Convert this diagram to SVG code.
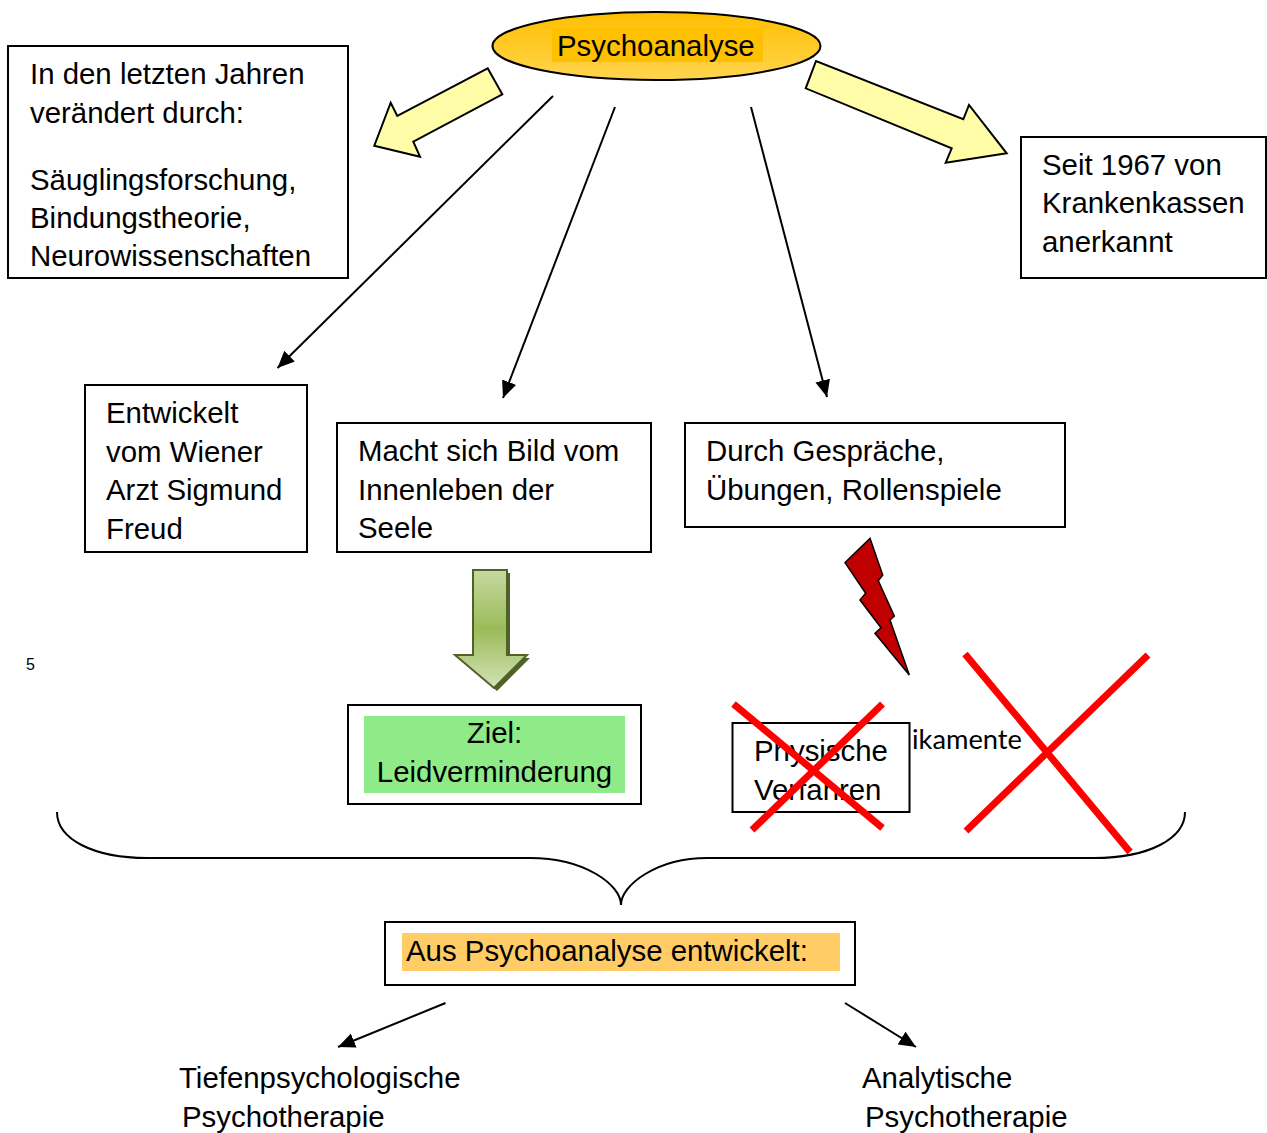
<svg xmlns="http://www.w3.org/2000/svg" width="1267" height="1133" viewBox="0 0 1267 1133">
<style>
text{font-family:"Liberation Sans",Arial,sans-serif;font-size:29.4px;fill:#000}
.box{fill:#fff;stroke:#000;stroke-width:2}
.conn{stroke:#000;stroke-width:2;fill:none}
.yarrow{fill:#FFFDA8;stroke:#000;stroke-width:2;stroke-linejoin:miter}
.cross{stroke:#FF0000;stroke-width:7;fill:none}
</style>
<defs>
<marker id="ah" markerUnits="userSpaceOnUse" markerWidth="18" markerHeight="16" refX="17" refY="7.5" orient="auto">
<path d="M0,0 L17,7.5 L0,15 z" fill="#000"/>
</marker>
<linearGradient id="gold" x1="0" y1="0" x2="0" y2="1">
<stop offset="0" stop-color="#FFBF00"/>
<stop offset="1" stop-color="#FFD450"/>
</linearGradient>
<linearGradient id="green" x1="0" y1="0" x2="0" y2="1">
<stop offset="0" stop-color="#C6D9A0"/>
<stop offset="0.5" stop-color="#9BBB59"/>
<stop offset="1" stop-color="#D3E2B6"/>
</linearGradient>
</defs>

<g id="psychoanalyse">
<ellipse cx="656.5" cy="46" rx="164" ry="34" fill="url(#gold)" stroke="#000" stroke-width="2"/>
<rect x="552" y="28" width="211" height="34" fill="#FFC000"/>
<text x="557" y="56">Psychoanalyse</text>
</g>

<g id="arrow-left-yellow">
<polygon class="yarrow" points="487.7,68.3 502.3,94.3 413.3,141.7 420,156.7 374.3,145.7 390.7,102.7 397.3,116"/>
</g>
<g id="arrow-right-yellow">
<polygon class="yarrow" points="816,61 805.7,88.3 951.7,148.3 945.7,162.7 1006.7,153.3 969,105 963.3,119.3"/>
</g>

<g id="box-letzte-jahre">
<rect class="box" x="8" y="46" width="340" height="232"/>
<text x="30" y="84">In den letzten Jahren</text>
<text x="30" y="123">verändert durch:</text>
<text x="30" y="190">Säuglingsforschung,</text>
<text x="30" y="228">Bindungstheorie,</text>
<text x="30" y="266">Neurowissenschaften</text>
</g>

<g id="box-krankenkassen">
<rect class="box" x="1021" y="137" width="245" height="141"/>
<text x="1042" y="175">Seit 1967 von</text>
<text x="1042" y="213">Krankenkassen</text>
<text x="1042" y="252">anerkannt</text>
</g>

<g id="box-freud">
<rect class="box" x="85" y="385" width="222" height="167"/>
<text x="106" y="423">Entwickelt</text>
<text x="106" y="462">vom Wiener</text>
<text x="106" y="500">Arzt Sigmund</text>
<text x="106" y="539">Freud</text>
</g>

<g id="box-innenleben">
<rect class="box" x="337" y="423" width="314" height="129"/>
<text x="358" y="461">Macht sich Bild vom</text>
<text x="358" y="500">Innenleben der</text>
<text x="358" y="538">Seele</text>
</g>

<g id="box-gespraeche">
<rect class="box" x="685" y="423" width="380" height="104"/>
<text x="706" y="461">Durch Gespräche,</text>
<text x="706" y="500">Übungen, Rollenspiele</text>
</g>

<g id="green-arrow">
<polygon points="476,573 510,573 510,658 530,658 497,691 458,658 476,658" fill="#4F6228"/>
<polygon points="473,570 507,570 507,655 527,655 494,688 455,655 473,655" fill="url(#green)" stroke="#4F6228" stroke-width="2"/>
</g>

<g id="box-ziel">
<rect class="box" x="348" y="705" width="293" height="99" stroke-width="2.5"/>
<rect x="364" y="716" width="261" height="77" fill="#8EEB87"/>
<text x="494.5" y="743" text-anchor="middle">Ziel:</text>
<text x="494.5" y="782" text-anchor="middle">Leidverminderung</text>
</g>

<g id="lightning">
<polygon points="870,538.3 882.7,575 878.3,580.7 894.3,616 890,620 909.3,675 875,633.3 881,627.7 860,600 865.7,593.3 845,562.7" fill="#C00000" stroke="#000" stroke-width="1.5" stroke-linejoin="miter"/>
</g>

<g id="box-physische">
<rect class="box" x="732.5" y="723" width="177" height="89"/>
<text x="754" y="761">Physische</text>
<text x="754" y="800">Verfahren</text>
<line class="cross" x1="733.5" y1="704" x2="882.5" y2="828"/>
<line class="cross" x1="882.5" y1="704" x2="752" y2="830"/>
</g>

<g id="medikamente">
<text x="912" y="749" style="font-family:Lato,'Open Sans',sans-serif;font-size:27px" textLength="110" lengthAdjust="spacingAndGlyphs">ikamente</text>
<line class="cross" x1="965" y1="654" x2="1130" y2="852"/>
<line class="cross" x1="1148" y1="655" x2="966" y2="831"/>
</g>

<g id="page-number">
<text x="26" y="670" style="font-size:16px">5</text>
</g>

<g id="brace">
<path class="conn" d="M57,812 C57,840 95,858 147,858 L530,858 C585,858 621,885 621,905 C621,885 657,858 707,858 L1094,858 C1150,858 1185,838 1185,812"/>
</g>

<g id="box-entwickelt">
<rect class="box" x="385" y="922" width="470" height="63"/>
<rect x="402" y="933" width="438" height="38" fill="#FFCC66"/>
<text x="406" y="961">Aus Psychoanalyse entwickelt:</text>
</g>

<g id="tiefenpsychologische">
<text x="179" y="1088">Tiefenpsychologische</text>
<text x="182" y="1127">Psychotherapie</text>
</g>
<g id="analytische">
<text x="862" y="1088">Analytische</text>
<text x="865" y="1127">Psychotherapie</text>
</g>

<g id="connectors">
<line class="conn" x1="553" y1="96" x2="277.5" y2="368" marker-end="url(#ah)"/>
<line class="conn" x1="615" y1="107" x2="503" y2="398" marker-end="url(#ah)"/>
<line class="conn" x1="751" y1="107" x2="827" y2="397" marker-end="url(#ah)"/>
<line class="conn" x1="445.5" y1="1003" x2="338" y2="1047" marker-end="url(#ah)"/>
<line class="conn" x1="845" y1="1003" x2="916" y2="1047" marker-end="url(#ah)"/>
</g>
</svg>
